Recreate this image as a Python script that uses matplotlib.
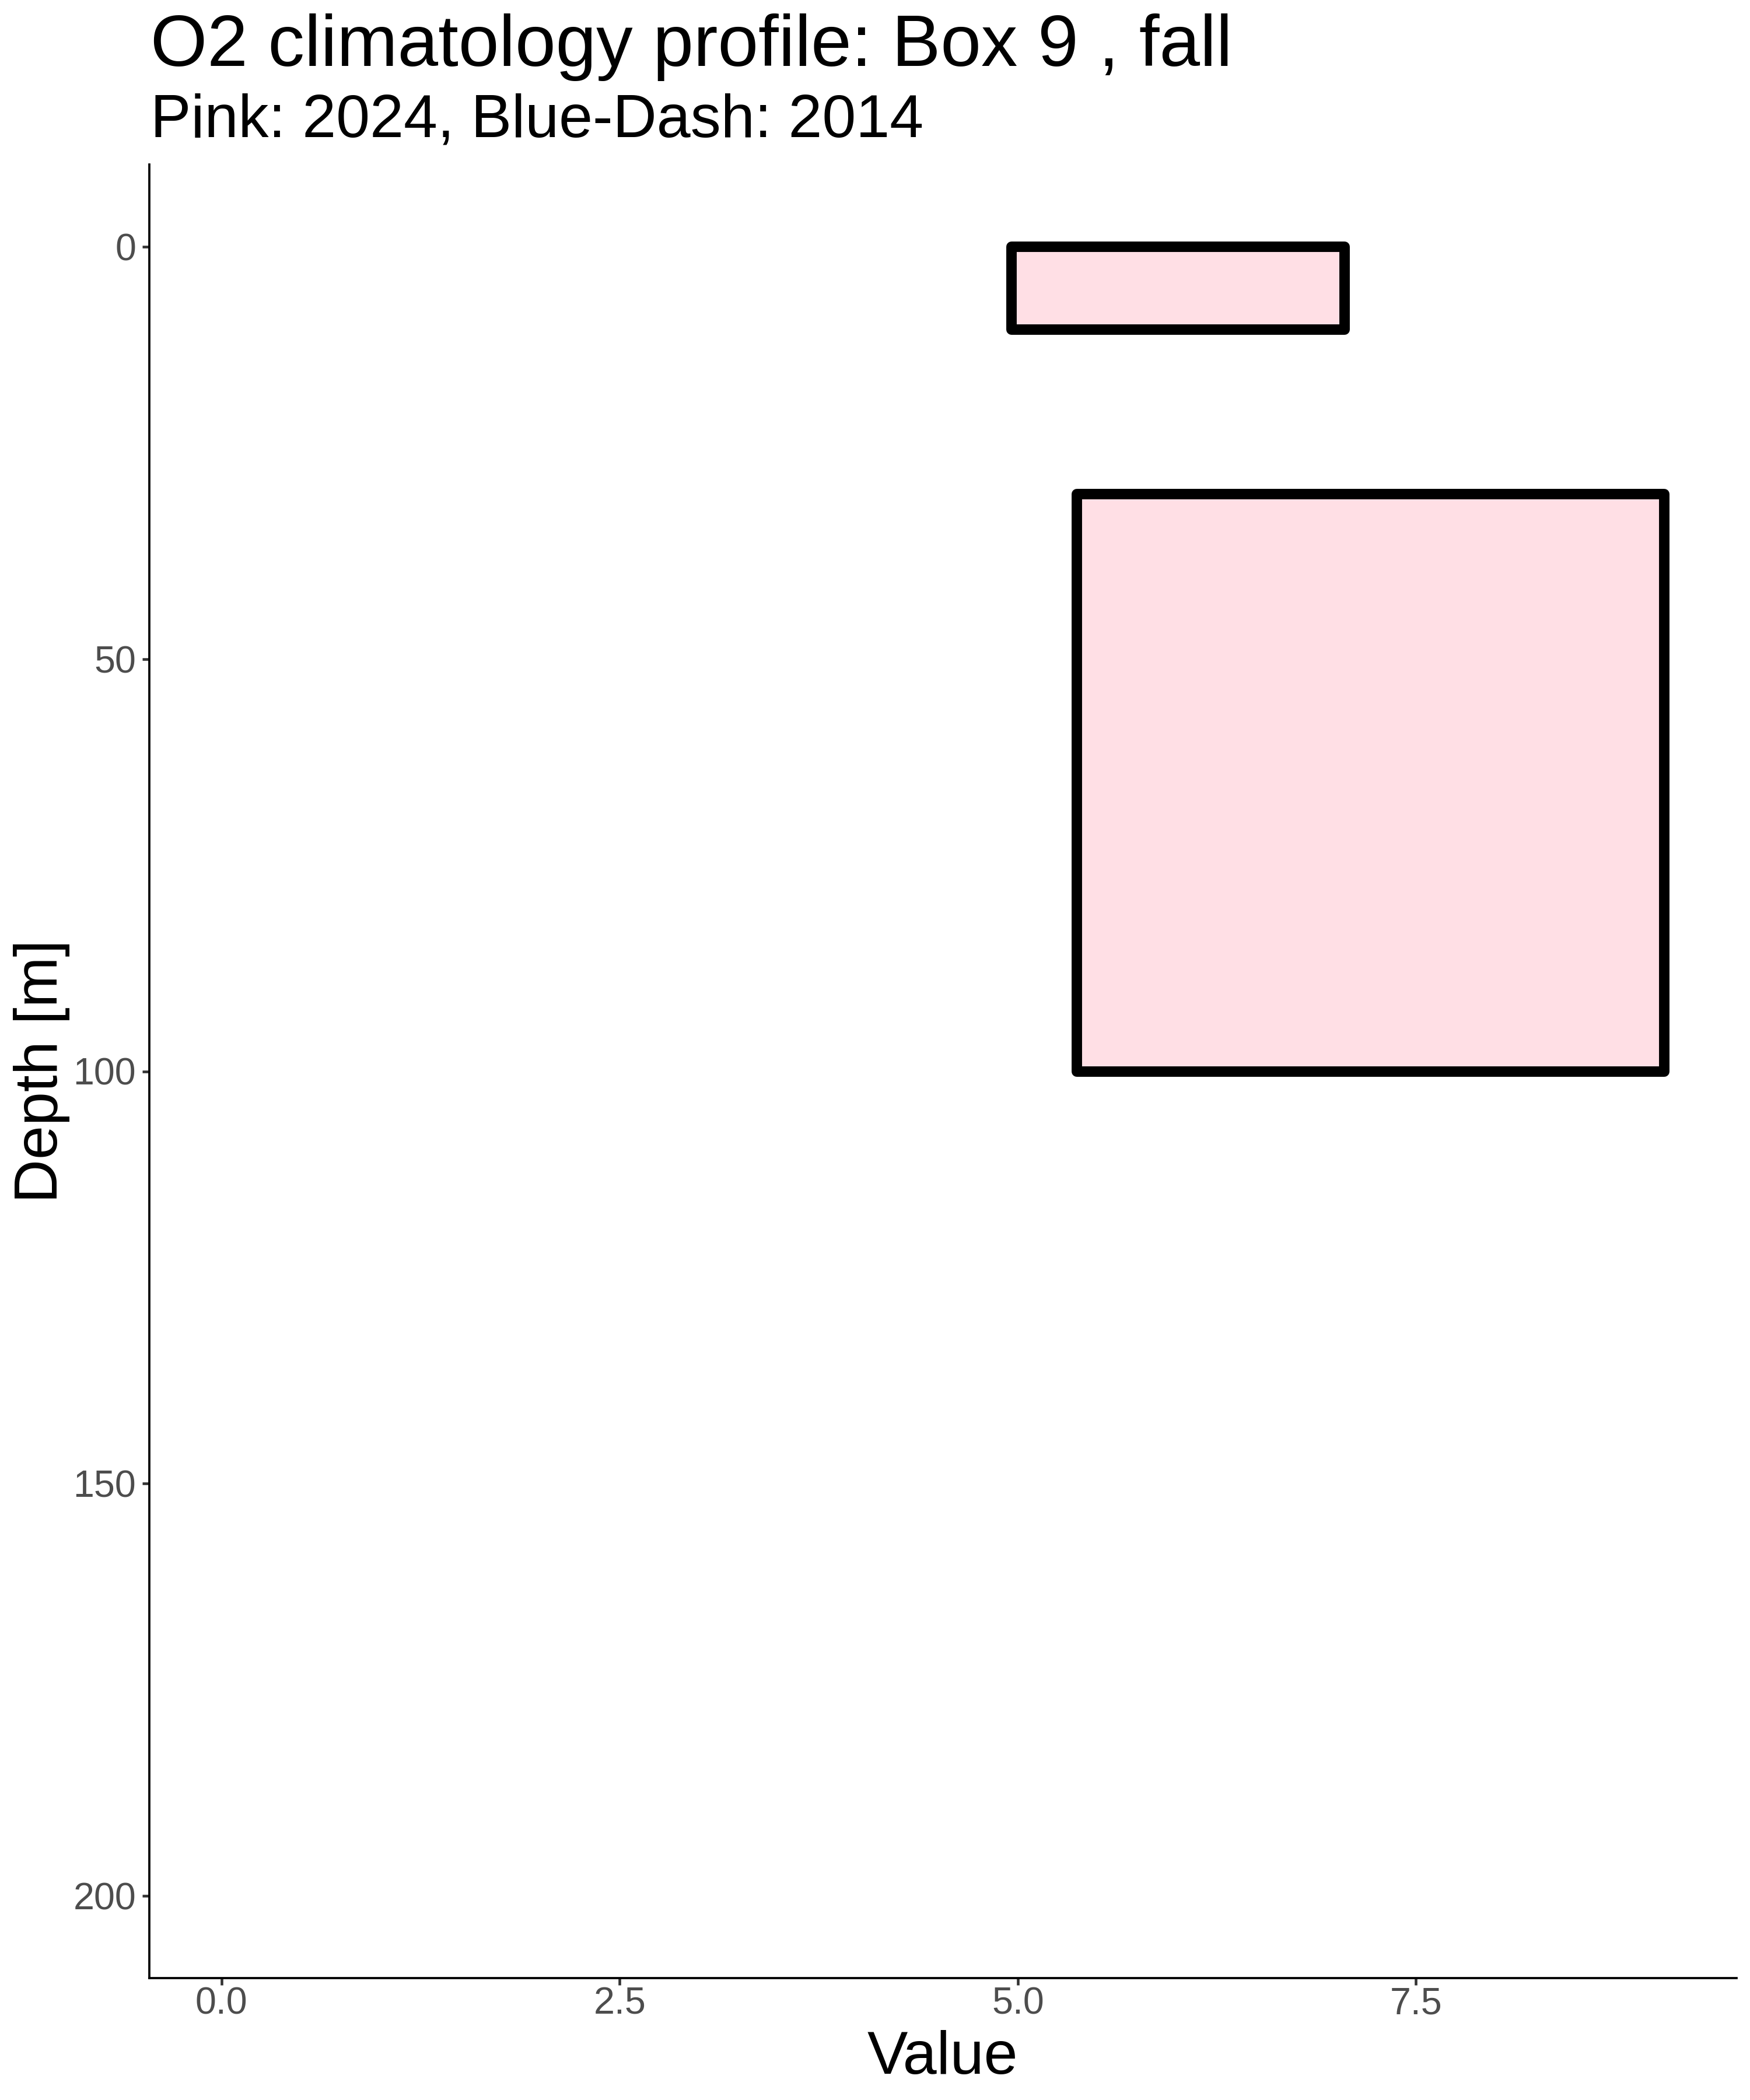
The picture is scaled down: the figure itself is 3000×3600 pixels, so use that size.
import numpy as np
import matplotlib
matplotlib.use("Agg")
import matplotlib.pyplot as plt
from matplotlib.patches import Rectangle

# O2 climatology boxes (2024), value range vs depth range
val_lo = [4.96, 5.37]
val_hi = [7.05, 9.06]
depth_top = [0, 30]
depth_bot = [10, 100]

x_range = [0, max(val_hi)]
y_range = [0, 200]
x_ticks = [0.0, 2.5, 5.0, 7.5]
y_ticks = [0, 50, 100, 150, 200]

plt.rcParams['font.family'] = ['Liberation Sans', 'DejaVu Sans']

W, H = 3000, 3600
fig = plt.figure(figsize=(10, 12), dpi=300)
ax = fig.add_axes([256/W, 1 - 3391/H, (2977-256)/W, (3391-282)/H])

for x0, x1, d0, d1 in zip(val_lo, val_hi, depth_top, depth_bot):
    ax.add_patch(Rectangle((x0, d0), x1 - x0, d1 - d0, facecolor='#FFDFE5',
                           edgecolor='black', linewidth=4.3, joinstyle='round'))

def expand(r, f=0.05):
    s = r[1] - r[0]
    return r[0] - f*s, r[1] + f*s

ax.set_xlim(*expand(x_range))
lo, hi = expand(y_range)
ax.set_ylim(hi, lo)

ax.set_xticks(x_ticks)
ax.set_xticklabels([f"{t:.1f}" for t in x_ticks])
ax.set_yticks(y_ticks)
ax.set_yticklabels([str(t) for t in y_ticks])

for s in ['top', 'right']:
    ax.spines[s].set_visible(False)
for s in ['left', 'bottom']:
    ax.spines[s].set_linewidth(0.9)
    ax.spines[s].set_color('black')

ax.tick_params(axis='both', length=2.9, width=1.1, color='#333333',
               labelsize=15.5, labelcolor='#4D4D4D')
ax.tick_params(axis='y', pad=2.6)
ax.tick_params(axis='x', pad=0.5)

fig.text(258/W, 1 - 113/H, "O2 climatology profile: Box 9 , fall",
         fontsize=30, ha='left', va='baseline')
fig.text(258/W, 1 - 235/H, "Pink: 2024, Blue-Dash: 2014",
         fontsize=25, ha='left', va='baseline')
fig.text(1616/W, 1 - 3555/H, "Value", fontsize=25, ha='center', va='baseline')
fig.text(98/W, 1 - 1836/H, "Depth [m]", fontsize=25, rotation=90,
         rotation_mode='anchor', ha='center', va='baseline')

fig.savefig("out.png", dpi=300, facecolor='white')
